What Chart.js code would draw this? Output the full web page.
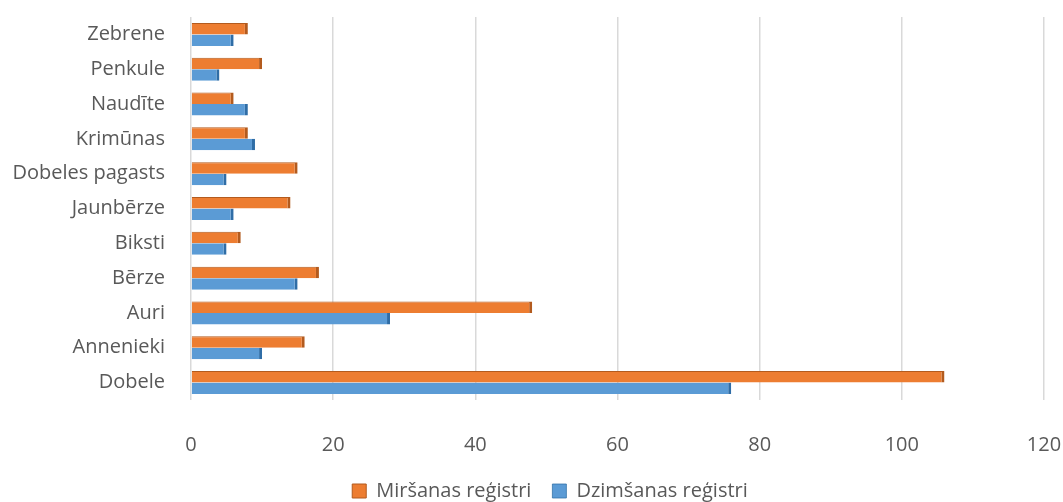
<!DOCTYPE html>
<html>
<head>
<meta charset="utf-8">
<script src="https://cdn.jsdelivr.net/npm/chart.js@4"></script>
<style>
  html, body { margin: 0; padding: 0; background: #fff; }
  #wrap { width: 1063px; height: 502px; position: relative; }
</style>
</head>
<body>
<div id="wrap"><canvas id="myChart"></canvas></div>
<script>
// categories, bottom to top as in the source sheet
const places = ["Dobele", "Annenieki", "Auri", "Bērze", "Biksti", "Jaunbērze",
                "Dobeles pagasts", "Krimūnas", "Naudīte", "Penkule", "Zebrene"];
const deaths = [106, 16, 48, 18, 7, 14, 15, 8, 6, 10, 8];   // Miršanas reģistri
const births = [76, 10, 28, 15, 5, 6, 5, 9, 8, 4, 6];       // Dzimšanas reģistri
const xTicks = [0, 20, 40, 60, 80, 100, 120];

const textColor = "#595959";
const fontFamily = "'Open Sans', 'Liberation Sans', sans-serif";

// legend in the original sits a bit right of centre
const nudgeLegend = {
  id: "nudgeLegend",
  afterLayout(chart) {
    chart.legend.left += 28;
    chart.legend.right += 28;
  }
};

new Chart(document.getElementById("myChart"), {
  type: "bar",
  data: {
    labels: places,
    datasets: [
      {
        label: "Miršanas reģistri",
        data: deaths,
        backgroundColor: "#ED7D31",
        borderColor: "#B35B1E",
        borderWidth: { top: 1, right: 3, bottom: 0, left: 0 },
        borderSkipped: false
      },
      {
        label: "Dzimšanas reģistri",
        data: births,
        backgroundColor: "#5B9BD5",
        borderColor: "#2F6DA6",
        borderWidth: { top: 0, right: 3, bottom: 0, left: 0 },
        borderSkipped: false
      }
    ]
  },
  options: {
    indexAxis: "y",
    responsive: true,
    maintainAspectRatio: false,
    animation: false,
    categoryPercentage: 0.66,
    barPercentage: 1,
    layout: { padding: { top: 17, right: 19, bottom: -9, left: 0 } },
    scales: {
      x: {
        min: 0,
        max: 120,
        afterBuildTicks: (axis) => { axis.ticks = xTicks.map(v => ({ value: v })); },
        afterFit: (axis) => {
          axis.height = 60;
          axis.paddingLeft = 0;
          axis.paddingRight = 0;
        },
        grid: { color: "#D9D9D9", lineWidth: 1.5, drawTicks: false },
        border: { display: false },
        ticks: { color: textColor, padding: 33, font: { family: fontFamily, size: 20 } }
      },
      y: {
        reverse: true,
        afterFit: (axis) => {
          axis.width = 191;
          axis.paddingTop = 0;
          axis.paddingBottom = 0;
        },
        grid: { display: false, drawTicks: false },
        border: { display: false },
        ticks: { color: textColor, padding: 26, font: { family: fontFamily, size: 20 } }
      }
    },
    plugins: {
      legend: {
        position: "bottom",
        labels: {
          color: textColor,
          boxWidth: 14,
          boxHeight: 14,
          padding: 21,
          font: { family: fontFamily, size: 20 }
        }
      },
      tooltip: { enabled: false }
    }
  },
  plugins: [nudgeLegend]
});
</script>
</body>
</html>
